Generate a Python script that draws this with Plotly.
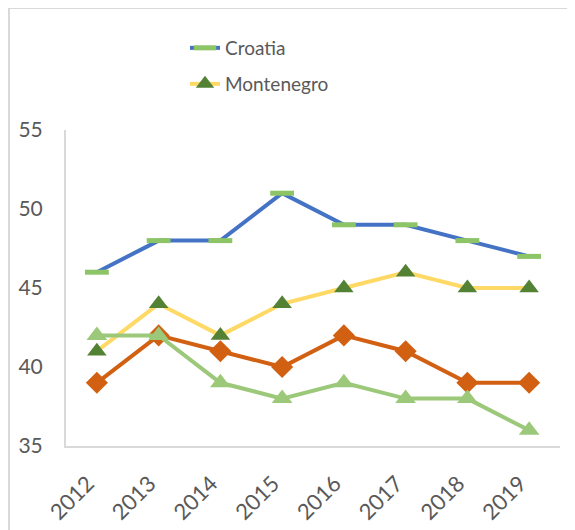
import plotly.graph_objects as go

years = ["2012", "2013", "2014", "2015", "2016", "2017", "2018", "2019"]
croatia = [46, 48, 48, 51, 49, 49, 48, 47]
montenegro = [41, 44, 42, 44, 45, 46, 45, 45]
series3 = [39, 42, 41, 40, 42, 41, 39, 39]
series4 = [42, 42, 39, 38, 39, 38, 38, 36]
y_ticks = [35, 40, 45, 50, 55]

FONT = "Lato"
GRAY = "#595959"

fig = go.Figure()
fig.add_trace(go.Scatter(
    x=years, y=croatia, name="Croatia", mode="lines+markers",
    line=dict(color="#4472c4", width=4),
    marker=dict(symbol="line-ew", size=17, color="#8cc466",
                line=dict(color="#8cc466", width=5)),
    legend="legend"))
fig.add_trace(go.Scatter(
    x=years, y=montenegro, name="Montenegro", mode="lines+markers",
    line=dict(color="#ffd966", width=4),
    marker=dict(symbol="triangle-up", size=17, color="#548235"),
    legend="legend2"))
fig.add_trace(go.Scatter(
    x=years, y=series3, name="Series 3", mode="lines+markers",
    line=dict(color="#d26012", width=4),
    marker=dict(symbol="diamond", size=17, color="#d26012"),
    showlegend=False))
fig.add_trace(go.Scatter(
    x=years, y=series4, name="Series 4", mode="lines+markers",
    line=dict(color="#9cc87a", width=4),
    marker=dict(symbol="triangle-up", size=18, color="#9cc87a"),
    showlegend=False))

# browser body margin offset
OFF = 8
# plot area edges in page pixels
PL, PR, PT, PB = 66, 560, 130, 446
L, T = PL - OFF, PT - OFF
R = 575 - (PR - OFF)
B = 530 - (PB - OFF)
W, H = 575 - L - R, 530 - T - B

def px(x):
    return (x - OFF - L) / W

def py(y):
    return (530 - B - (y - OFF)) / H

fig.update_layout(
    width=575, height=530,
    margin=dict(l=L, r=R, t=T, b=B, autoexpand=False),
    paper_bgcolor="white", plot_bgcolor="white",
    font=dict(family=FONT, color=GRAY, size=19),
    legend=dict(x=px(185), y=py(48), xanchor="left", yanchor="middle",
                font=dict(size=19, color=GRAY), bgcolor="rgba(0,0,0,0)"),
    legend2=dict(x=px(185), y=py(84), xanchor="left", yanchor="middle",
                 font=dict(size=19, color=GRAY), bgcolor="rgba(0,0,0,0)"),
    xaxis=dict(type="category", range=[-0.5, len(years) - 0.5],
               showgrid=False, showline=True,
               linecolor="#d9d9d9", linewidth=2, ticks="",
               tickangle=-45, tickfont=dict(size=22, color=GRAY),
               ticklabelstandoff=14, ticklabelshift=-9,
               zeroline=False, automargin=False),
    yaxis=dict(range=[35, 55], tickvals=y_ticks, showgrid=False,
               showline=True, linecolor="#d9d9d9", linewidth=2, ticks="",
               tickfont=dict(size=21, color=GRAY), ticklabelstandoff=17,
               zeroline=False, automargin=False),
    shapes=[dict(type="rect", xref="paper", yref="paper",
                 x0=px(9), x1=px(620), y0=py(580), y1=py(8),
                 line=dict(color="#d9d9d9", width=2), layer="below")],
)

fig.write_html("out.html")
